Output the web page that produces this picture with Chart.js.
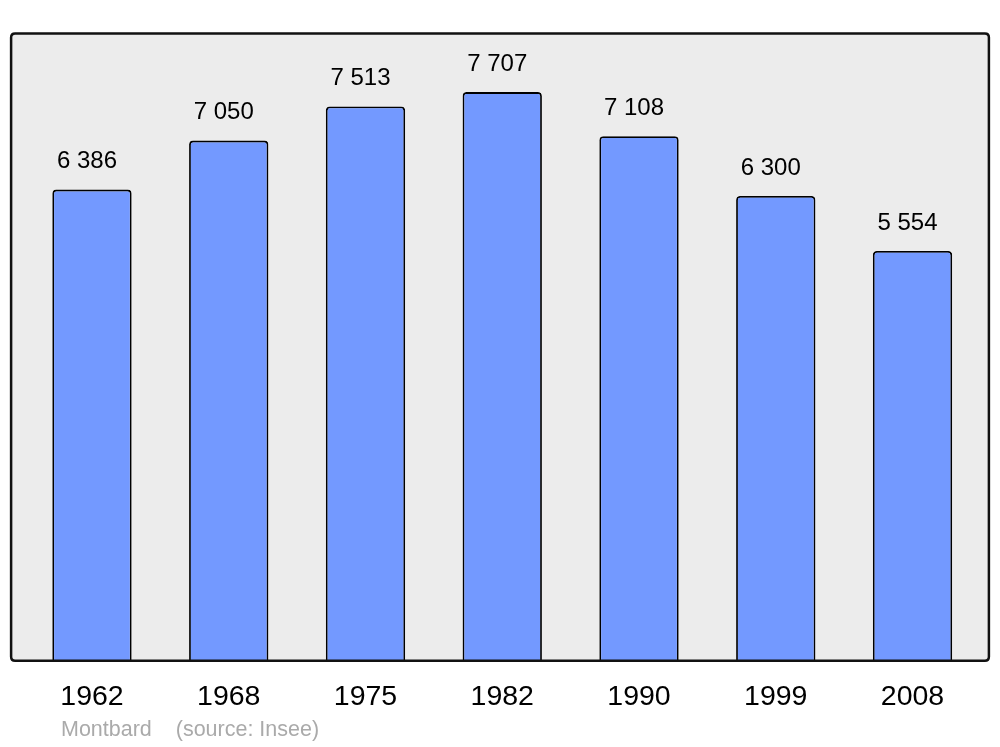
<!DOCTYPE html>
<html>
<head>
<meta charset="utf-8">
<script src="https://cdn.jsdelivr.net/npm/chart.js@4/dist/chart.umd.min.js"></script>
<style>
  html, body { margin: 0; padding: 0; background: #fff; }
  #wrap { width: 1000px; height: 747px; }
</style>
</head>
<body>
<div id="wrap"><canvas id="popChart" width="1000" height="747"></canvas></div>
<script>
// Population de Montbard (source : Insee)
const years = ['1962', '1968', '1975', '1982', '1990', '1999', '2008'];
const population = [6386, 7050, 7513, 7707, 7108, 6300, 5554];
const yMax = 8500;
const sourceText = 'Montbard    (source: Insee)';

function formatNombre(v) {
  return String(v).replace(/\B(?=(\d{3})+(?!\d))/g, ' ');
}

function roundRect(ctx, x, y, w, h, r) {
  ctx.beginPath();
  ctx.moveTo(x + r, y);
  ctx.lineTo(x + w - r, y);
  ctx.quadraticCurveTo(x + w, y, x + w, y + r);
  ctx.lineTo(x + w, y + h - r);
  ctx.quadraticCurveTo(x + w, y + h, x + w - r, y + h);
  ctx.lineTo(x + r, y + h);
  ctx.quadraticCurveTo(x, y + h, x, y + h - r);
  ctx.lineTo(x, y + r);
  ctx.quadraticCurveTo(x, y, x + r, y);
  ctx.closePath();
}

// cadre gris, étiquettes des valeurs et source
const cadrePlugin = {
  id: 'cadre',
  beforeDatasetsDraw(chart) {
    const a = chart.chartArea;
    const ctx = chart.ctx;
    ctx.save();
    roundRect(ctx, a.left - 12.5, a.top, a.right - a.left + 20.5, a.bottom - a.top, 4);
    ctx.fillStyle = '#ececec';
    ctx.fill();
    ctx.restore();
  },
  afterDatasetsDraw(chart) {
    const a = chart.chartArea;
    const ctx = chart.ctx;
    ctx.save();
    roundRect(ctx, a.left - 12.5, a.top, a.right - a.left + 20.5, a.bottom - a.top, 4);
    ctx.lineWidth = 2.5;
    ctx.strokeStyle = '#111';
    ctx.stroke();

    const meta = chart.getDatasetMeta(0);
    ctx.fillStyle = '#000';
    ctx.font = '24px "Liberation Sans", Arial, sans-serif';
    ctx.textAlign = 'center';
    ctx.textBaseline = 'middle';
    meta.data.forEach((bar, i) => {
      ctx.fillText(formatNombre(population[i]), bar.x - 5, bar.y - 28);
    });

    ctx.fillStyle = '#aaaaaa';
    ctx.font = '21.5px "Liberation Sans", Arial, sans-serif';
    ctx.textAlign = 'left';
    ctx.fillText(sourceText, 61, 730);
    ctx.restore();
  }
};

const ctx = document.getElementById('popChart').getContext('2d');
const popChart = new Chart(ctx, {
  type: 'bar',
  data: {
    labels: years,
    datasets: [{
      data: population,
      backgroundColor: '#7399ff',
      borderColor: '#000',
      borderWidth: 1.8,
      borderRadius: { topLeft: 4, topRight: 4 },
      borderSkipped: 'bottom',
      barPercentage: 0.58,
      categoryPercentage: 1
    }]
  },
  options: {
    responsive: false,
    animation: false,
    layout: {
      padding: { left: 23.6, right: 19.1, top: 33.6, bottom: 14 }
    },
    plugins: {
      legend: { display: false },
      tooltip: { enabled: false }
    },
    scales: {
      y: {
        display: false,
        min: 0,
        max: yMax
      },
      x: {
        grid: { display: false, drawTicks: false },
        border: { display: false },
        ticks: {
          color: '#000',
          padding: 19,
          font: { family: '"Liberation Sans", Arial, sans-serif', size: 28.5 }
        }
      }
    }
  },
  plugins: [cadrePlugin]
});
</script>
</body>
</html>
